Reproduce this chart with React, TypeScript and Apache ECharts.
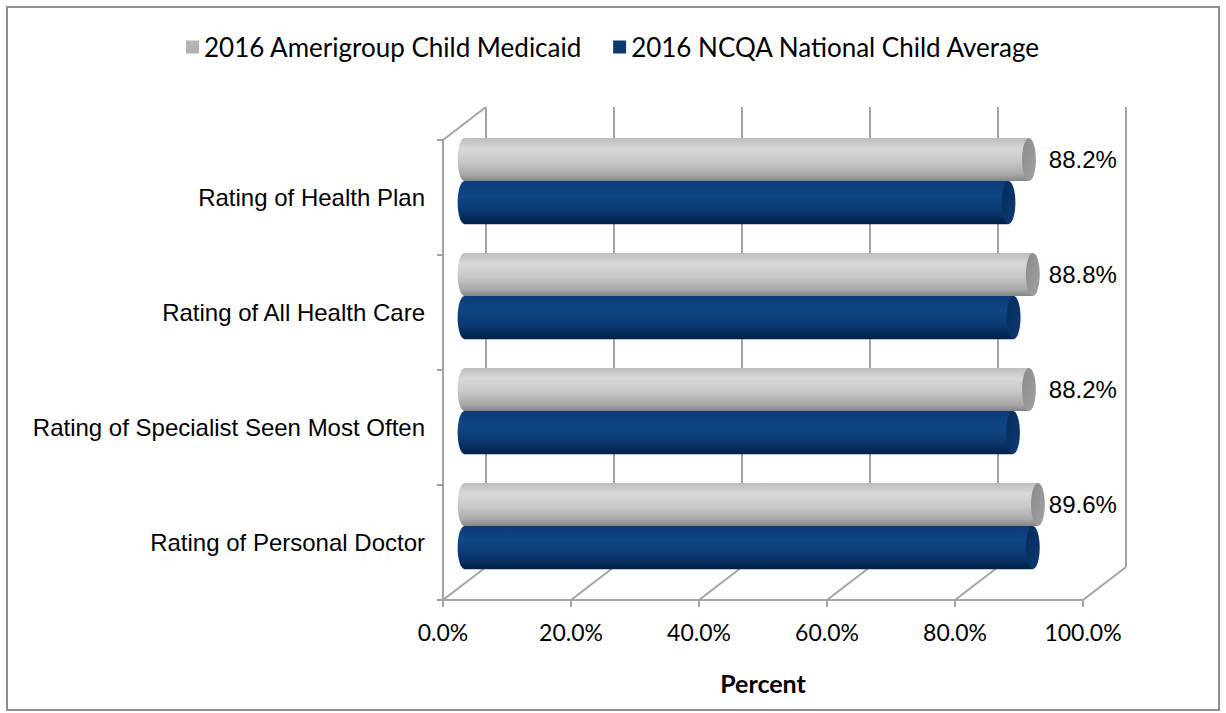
import React, { useEffect, useRef } from "react";
import * as echarts from "echarts";

const categories = [
  "Rating of Health Plan",
  "Rating of All Health Care",
  "Rating of Specialist Seen Most Often",
  "Rating of Personal Doctor",
];
const amerigroup = [88.2, 88.8, 88.2, 89.6];
const ncqa = [85.0, 85.8, 85.7, 88.8];
const xTicks = [0, 20, 40, 60, 80, 100];
const seriesNames = ["2016 Amerigroup Child Medicaid", "2016 NCQA National Child Average"];
const axisTitle = "Percent";

const DX = 43;
const DY = -33;
const GRID_COLOR = "#a3a3a3";

const grayBody = () =>
  new echarts.graphic.LinearGradient(0, 0, 0, 1, [
    { offset: 0, color: "#bdbdbd" },
    { offset: 0.25, color: "#d8d8d8" },
    { offset: 0.55, color: "#c8c8c8" },
    { offset: 0.85, color: "#a8a8a8" },
    { offset: 1, color: "#858585" },
  ]);
const grayCap = () =>
  new echarts.graphic.LinearGradient(0, 0, 1, 1, [
    { offset: 0, color: "#8a8a8a" },
    { offset: 1, color: "#a2a2a2" },
  ]);
const blueBody = () =>
  new echarts.graphic.LinearGradient(0, 0, 0, 1, [
    { offset: 0, color: "#0b3a77" },
    { offset: 0.35, color: "#104687" },
    { offset: 0.7, color: "#0a3870" },
    { offset: 1, color: "#032048" },
  ]);
const blueCap = () =>
  new echarts.graphic.LinearGradient(0, 0, 1, 1, [
    { offset: 0, color: "#062a58" },
    { offset: 1, color: "#0c3b74" },
  ]);

function makeBarRender(seriesIdx: number) {
  const maxGray = Math.max(...amerigroup);
  return (params: any, api: any) => {
    const v = api.value(0);
    const i = api.value(1);
    const p0 = api.coord([0, i]);
    const p1 = api.coord([v, i]);
    const band = api.size([0, 1])[1];
    const h = band * 0.375;
    const cy = p0[1] + DY * 0.5;
    const top = seriesIdx === 0 ? cy - h : cy;
    const x0 = p0[0] + DX * 0.5;
    const x1 = p1[0] + DX * 0.5;
    const rx = h * 0.16;
    const body = seriesIdx === 0 ? grayBody() : blueBody();
    const cap = seriesIdx === 0 ? grayCap() : blueCap();
    const children: any[] = [
      {
        type: "ellipse",
        shape: { cx: x0, cy: top + h / 2, rx, ry: h / 2 },
        style: { fill: body },
      },
      {
        type: "rect",
        shape: { x: x0, y: top, width: x1 - x0, height: h },
        style: { fill: body },
      },
      {
        type: "ellipse",
        shape: { cx: x1, cy: top + h / 2, rx, ry: h / 2 },
        style: { fill: cap },
      },
    ];
    if (seriesIdx === 0) {
      const lx = api.coord([maxGray, i])[0] + DX * 0.5 + rx + 4;
      children.push({
        type: "text",
        style: {
          x: lx,
          y: top + h / 2,
          text: v.toFixed(1) + "%",
          fill: "#000",
          font: '24px "Liberation Sans", Arial, sans-serif',
          textAlign: "left",
          textVerticalAlign: "middle",
        },
      });
    }
    return { type: "group", children };
  };
}

export default function App() {
  const ref = useRef<HTMLDivElement>(null);
  useEffect(() => {
    if (!ref.current) return;
    const chart = echarts.init(ref.current, undefined, { renderer: "svg" });
    const minTick = Math.min(...xTicks);
    const option: any = {
      animation: false,
      backgroundColor: "#ffffff",
      graphic: [
        {
          type: "rect",
          shape: { x: 7, y: 7, width: 1212, height: 703 },
          style: { fill: "none", stroke: "#8f8f8f", lineWidth: 2 },
          silent: true,
        },
      ],
      legend: {
        left: 181,
        top: 29,
        itemWidth: 13,
        itemHeight: 13,
        itemGap: 31,
        textStyle: { fontFamily: "Lato", fontSize: 26, color: "#000" },
        data: [
          { name: seriesNames[0], icon: "rect", itemStyle: { color: "#b3b3b3" } },
          { name: seriesNames[1], icon: "rect", itemStyle: { color: "#0b3a70" } },
        ],
      },
      grid: { left: 443, right: 143, top: 140, bottom: 113 },
      xAxis: {
        type: "value",
        min: 0,
        max: 100,
        interval: 20,
        splitLine: { show: false },
        axisLine: { show: true, lineStyle: { color: GRID_COLOR, width: 2 } },
        axisTick: { show: true, length: 7, lineStyle: { color: GRID_COLOR, width: 2 } },
        axisLabel: {
          formatter: (v: number) => v.toFixed(1) + "%",
          fontFamily: "Lato",
          fontSize: 23,
          color: "#000",
          margin: 20,
        },
        name: axisTitle,
        nameLocation: "middle",
        nameGap: 70,
        nameTextStyle: { fontFamily: "Lato", fontWeight: "bold", fontSize: 25, color: "#000" },
      },
      yAxis: {
        type: "category",
        inverse: true,
        data: categories,
        axisLine: { show: true, lineStyle: { color: GRID_COLOR, width: 2 } },
        axisTick: { show: true, length: 6, lineStyle: { color: GRID_COLOR, width: 2 } },
        axisLabel: {
          fontFamily: '"Liberation Sans", Arial, sans-serif',
          fontSize: 24,
          color: "#000",
          margin: 18,
        },
      },
      series: [
        {
          type: "custom",
          name: "walls",
          z: 1,
          silent: true,
          data: xTicks.map((t) => [t]),
          encode: { x: 0 },
          renderItem: (params: any, api: any) => {
            const cs = params.coordSys;
            const topY = cs.y;
            const botY = cs.y + cs.height;
            const t = api.value(0);
            const x = api.coord([t, 0])[0];
            const ls = { stroke: GRID_COLOR, lineWidth: 2 };
            const children: any[] = [
              { type: "line", shape: { x1: x, y1: botY, x2: x + DX, y2: botY + DY }, style: ls },
              { type: "line", shape: { x1: x + DX, y1: topY + DY, x2: x + DX, y2: botY + DY }, style: ls },
            ];
            if (t === minTick) {
              children.push({ type: "line", shape: { x1: x, y1: topY, x2: x + DX, y2: topY + DY }, style: ls });
            }
            return { type: "group", children };
          },
        },
        {
          type: "custom",
          name: seriesNames[0],
          z: 3,
          color: "#b3b3b3",
          data: amerigroup.map((v, i) => [v, i]),
          encode: { x: 0, y: 1 },
          renderItem: makeBarRender(0),
        },
        {
          type: "custom",
          name: seriesNames[1],
          z: 3,
          color: "#0b3a70",
          data: ncqa.map((v, i) => [v, i]),
          encode: { x: 0, y: 1 },
          renderItem: makeBarRender(1),
        },
      ],
    };
    chart.setOption(option);
    return () => chart.dispose();
  }, []);
  return (
    <div
      ref={ref}
      style={{ position: "fixed", left: 0, top: 0, width: 1226, height: 713 }}
    />
  );
}
